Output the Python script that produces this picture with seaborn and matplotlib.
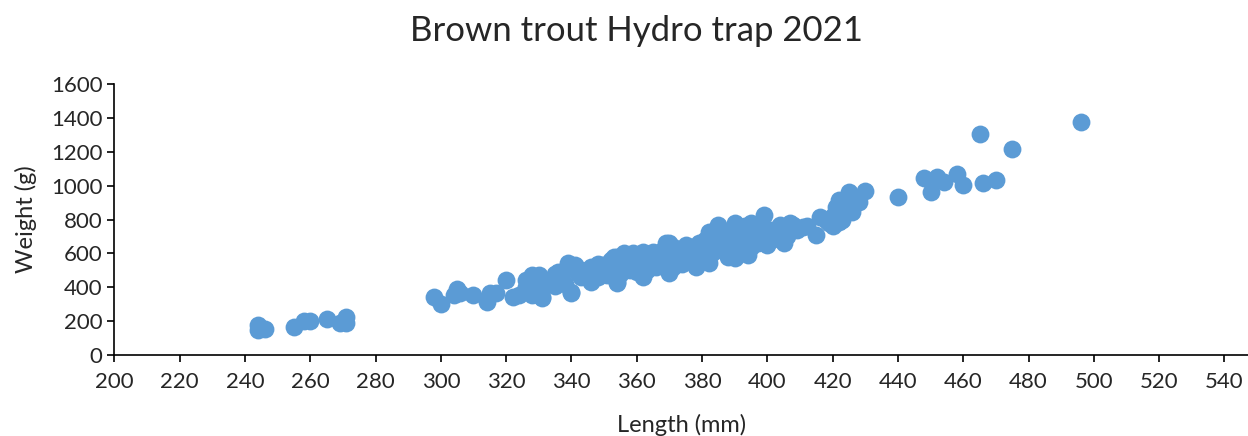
import seaborn as sns
import matplotlib.pyplot as plt
import pandas as pd

# length (mm) and weight (g)
length = [244, 244, 246, 255, 258, 260, 265, 269, 271, 271,
          298, 300, 304, 306, 305, 310, 314, 315, 317, 320, 322, 324, 326, 326,
          328, 328, 330, 331, 333, 336, 339, 340, 341, 342, 346, 347, 350, 353,
          354, 356, 358, 362, 362, 328, 330, 331, 336, 340, 346, 349, 354, 354,
          365, 369, 370, 370, 375, 378, 382, 382, 385, 388, 390, 390, 394, 395,
          399, 400, 404, 405, 408, 411, 407, 415, 416, 419, 422, 421, 422, 425,
          426, 428, 430, 426, 440, 448, 450, 452, 454, 458, 460, 465, 466, 470,
          475, 496,
          335, 335, 335, 338, 338, 343, 343, 343, 345, 345, 348, 348, 348,
          351, 351, 351, 352, 355, 355, 355, 357, 357, 359, 359, 359, 360, 360,
          363, 363, 363, 364, 366, 366, 366, 367, 368, 368, 368, 371, 371, 371,
          371, 372, 373, 373, 374, 374, 376, 376, 376, 377, 379, 379, 379, 380,
          380, 381, 383, 383, 383, 383, 384, 386, 386, 386, 386, 387, 388, 388,
          389, 389, 391, 391, 391, 391, 392, 393, 393, 393, 395, 395, 396, 396,
          397, 397, 398, 398, 401, 401, 401, 402, 403, 403, 406, 406, 409, 412,
          418, 420, 420, 423]
weight = [177, 148, 153, 165, 200, 200, 212, 189, 224, 189,
          342, 301, 354, 366, 390, 354, 313, 366, 366, 443, 342, 354, 443, 401,
          461, 354, 431, 337, 425, 490, 543, 366, 531, 484, 431, 514, 520, 579,
          431, 602, 502, 608, 461, 472, 470, 342, 443, 372, 520, 531, 425, 579,
          608, 661, 484, 661, 649, 520, 543, 726, 767, 579, 573, 779, 590, 779,
          826, 649, 767, 661, 767, 756, 779, 708, 814, 779, 785, 873, 915, 962,
          844, 903, 968, 903, 933, 1045, 962, 1051, 1021, 1069, 1004, 1305, 1016, 1033,
          1216, 1376,
          410, 450, 480, 420, 500, 460, 500, 480, 470, 500, 490, 460, 540,
          500, 540, 470, 560, 520, 560, 480, 540, 580, 520, 560, 600, 490, 540,
          520, 580, 500, 560, 540, 600, 520, 560, 580, 620, 530, 560, 600, 520,
          640, 580, 620, 560, 600, 540, 600, 630, 560, 580, 620, 660, 560, 600,
          640, 680, 620, 660, 700, 600, 640, 660, 700, 620, 740, 680, 640, 720,
          600, 660, 640, 700, 740, 620, 680, 660, 720, 760, 640, 700, 740, 680,
          720, 660, 700, 760, 700, 740, 680, 720, 740, 690, 730, 700, 740, 760,
          800, 820, 760, 800]

df = pd.DataFrame({"Length (mm)": length, "Weight (g)": weight})

sns.set_style("ticks")
plt.rcParams["font.family"] = ["Lato", "DejaVu Sans"]

fig = plt.figure(figsize=(12.48, 4.36), dpi=100)
ax = fig.add_axes([0.0916, 0.1858, 0.9084, 0.6215])
sns.scatterplot(data=df, x="Length (mm)", y="Weight (g)", ax=ax,
                color="#5B9BD5", s=165, linewidth=0, alpha=1, clip_on=False)

ax.set_xlim(200, 547.2)
ax.set_ylim(0, 1600)
ax.set_xticks(range(200, 541, 20))
ax.set_yticks(range(0, 1601, 200))
ax.tick_params(labelsize=16, length=5, width=1.2, color="black", direction="out")
ax.tick_params(axis="x", pad=7)
for s in ["left", "bottom"]:
    ax.spines[s].set_color("black")
    ax.spines[s].set_linewidth(1.2)
sns.despine(ax=ax)
ax.set_xlabel("Length (mm)", fontsize=17, labelpad=16)
ax.set_ylabel("Weight (g)", fontsize=17, labelpad=10)
fig.text(0.51, 0.93, "Brown trout Hydro trap 2021", ha="center", va="center", fontsize=25)

fig.savefig("out.png", dpi=100)
